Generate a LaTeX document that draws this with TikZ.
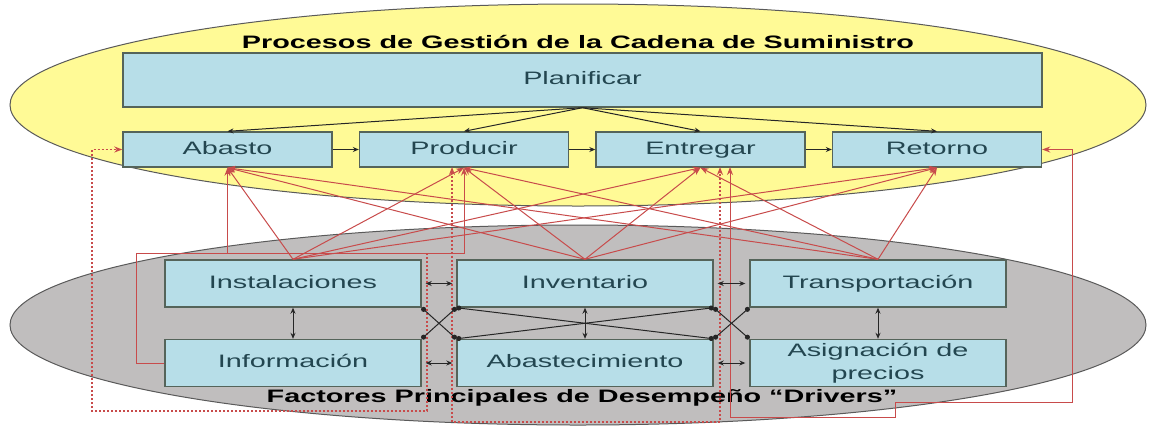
\documentclass[tikz,border=0pt]{standalone}
\usepackage{fontspec}
\setmainfont{Liberation Sans}
\usetikzlibrary{arrows.meta}
\newcommand{\wt}[1]{\scalebox{1.6}[1]{#1}}
\definecolor{ylw}{RGB}{255,250,150}
\definecolor{gry}{RGB}{192,190,190}
\definecolor{boxfill}{RGB}{183,222,232}
\definecolor{boxline}{RGB}{85,100,90}
\definecolor{boxtext}{RGB}{35,70,80}
\definecolor{redl}{RGB}{200,75,75}
\definecolor{ellline}{RGB}{90,90,90}
\begin{document}
\begin{tikzpicture}[x=0.5pt,y=-0.5pt,
  box/.style={draw=boxline, fill=boxfill, line width=0.7pt, inner sep=0pt, text=boxtext, font=\fontsize{9}{10.5}\selectfont, align=center},
  onel/.style={box, text height=6.6pt, text depth=1.9pt},
  pbox/.style={onel, minimum width=104.5pt, minimum height=17.5pt},
  dbox/.style={onel, minimum width=128pt, minimum height=23.5pt},
  dbox2/.style={box, minimum width=128pt, minimum height=23.5pt},
  ttl/.style={font=\bfseries\fontsize{9}{10}\selectfont, text=black, inner sep=0pt},
  blk/.style={draw=black!85, line width=0.5pt, -{Stealth[length=3pt,width=2.5pt]}},
  dbl/.style={draw=black!85, line width=0.5pt, {Stealth[length=3pt,width=2.5pt]}-{Stealth[length=3pt,width=2.5pt]}},
  xl/.style={draw=black!85, line width=0.5pt, {Circle[length=2.5pt]}-{Circle[length=2.5pt]}},
  rl/.style={draw=redl, line width=0.5pt, -{Stealth[length=4pt,width=3pt]}},
  rdot/.style={draw=redl, line width=0.6pt, dash pattern=on 1pt off 1pt},
]
\useasboundingbox (0,0) rectangle (1149,434);
\fill[white] (0,0) rectangle (1149,434);

% ellipses
\draw[draw=ellline, fill=ylw, line width=0.5pt] (578,105) ellipse [x radius=284pt, y radius=50.5pt];
\draw[draw=ellline, fill=gry, line width=0.5pt] (578,325) ellipse [x radius=284pt, y radius=50pt];

% titles
\node[ttl] (t1) at (578,42) {\wt{Procesos de Gestión de la Cadena de Suministro}};
\node[ttl] (t2) at (582,398) {\wt{Factores Principales de Desempeño “Drivers”}};

% process boxes
\node[onel, minimum width=459.5pt, minimum height=27pt] (plan) at (582.5,80) {\wt{Planificar}};
\node[pbox] (abasto) at (227.5,149.5) {\wt{Abasto}};
\node[pbox] (producir) at (464,149.5) {\wt{Producir}};
\node[pbox] (entregar) at (700.5,149.5) {\wt{Entregar}};
\node[pbox] (retorno) at (937,149.5) {\wt{Retorno}};

% driver boxes
\node[dbox] (inst) at (293,283.5) {\wt{Instalaciones}};
\node[dbox] (inv) at (585,283.5) {\wt{Inventario}};
\node[dbox] (trans) at (878,283.5) {\wt{Transportación}};
\node[dbox] (info) at (293,363) {\wt{Información}};
\node[dbox] (abas) at (585,363) {\wt{Abastecimiento}};
\node[dbox2] (asig) at (878,363) {\wt{Asignación de}\\[1pt]\wt{precios}};

% planificar connectors
\foreach \p in {abasto,producir,entregar,retorno}
  \draw[blk] (plan.south) -- (\p.north);
\draw[blk] (abasto) -- (producir);
\draw[blk] (producir) -- (entregar);
\draw[blk] (entregar) -- (retorno);

% driver fan lines
\foreach \d in {inst,inv,trans}
  \foreach \p in {abasto,producir,entregar,retorno}
    \draw[rl] (\d.north) -- (\p.south);

% routed red connectors
\coordinate (c1) at (136,253);
\draw[rl] (info.west) -| (c1) -| (producir.south);
\draw[rl] (abasto.south |- c1) -- (abasto.south);
\coordinate (c5) at (730,417);
\coordinate (e2) at (730,167);
\coordinate (c3) at (895,402);
\coordinate (c4) at (1072,402);
\draw[rl] (c5) -- (e2);
\draw[rl] (c5) -| (c3) -- (c4) |- (retorno.east);

% dotted red connectors
\coordinate (d1) at (427,253);
\coordinate (d2) at (427,411);
\coordinate (d3) at (92,411);
\draw[rdot, -{Stealth[length=4pt,width=3pt]}] (d1) -- (d2) -- (d3) |- (abasto.west);
\coordinate (p2) at (452,167);
\coordinate (d4) at (452,422);
\coordinate (d5) at (720,422);
\coordinate (e3) at (720,167);
\draw[rdot, {Stealth[length=4pt,width=3pt]}-{Stealth[length=4pt,width=3pt]}] (p2) -- (d4) -- (d5) -- (e3);

% driver interconnections
\draw[dbl] (inst) -- (info);
\draw[dbl] (inv) -- (abas);
\draw[dbl] (trans) -- (asig);
\draw[dbl, shorten <=2pt, shorten >=2pt] (inst.east) -- (inst.east -| inv.west);
\draw[dbl, shorten <=2pt, shorten >=2pt] (inv.east) -- (inv.east -| trans.west);
\draw[dbl, shorten <=2pt, shorten >=2pt] (info.east) -- (info.east -| abas.west);
\draw[dbl, shorten <=2pt, shorten >=2pt] (abas.east) -- (abas.east -| asig.west);
\draw[xl] (inst.south east) -- (abas.north west);
\draw[xl] (info.north east) -- (inv.south west);
\draw[xl] (inv.south west) -- (abas.north east);
\draw[xl] (abas.north west) -- (inv.south east);
\draw[xl] (inv.south east) -- (asig.north west);
\draw[xl] (abas.north east) -- (trans.south west);
\end{tikzpicture}
\end{document}
